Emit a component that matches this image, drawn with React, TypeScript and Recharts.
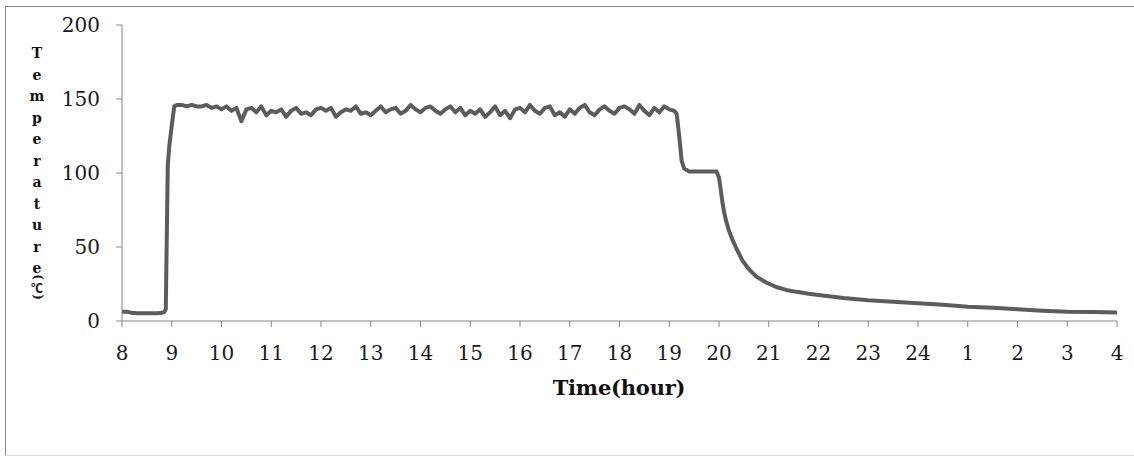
import React from "react";
import { LineChart, Line, XAxis, YAxis, Label } from "recharts";

// Time in hours (values above 24 are the next morning: 25 = 1h, 28 = 4h)
const startTimes = [8.0, 8.1, 8.2, 8.3, 8.5, 8.7, 8.8, 8.85, 8.88, 8.92, 8.95, 9.0, 9.05];
const startTemps = [6.3, 6.3, 5.5, 5.2, 5.2, 5.3, 5.5, 6.0, 8.0, 105, 118, 132, 145];

const plateauTimes = [
  9.1, 9.2, 9.3, 9.4, 9.5, 9.6, 9.7, 9.8, 9.9, 10.0,
  10.1, 10.2, 10.3, 10.4, 10.5, 10.6, 10.7, 10.8, 10.9, 11.0,
  11.1, 11.2, 11.3, 11.4, 11.5, 11.6, 11.7, 11.8, 11.9, 12.0,
  12.1, 12.2, 12.3, 12.4, 12.5, 12.6, 12.7, 12.8, 12.9, 13.0,
  13.1, 13.2, 13.3, 13.4, 13.5, 13.6, 13.7, 13.8, 13.9, 14.0,
  14.1, 14.2, 14.3, 14.4, 14.5, 14.6, 14.7, 14.8, 14.9, 15.0,
  15.1, 15.2, 15.3, 15.4, 15.5, 15.6, 15.7, 15.8, 15.9, 16.0,
  16.1, 16.2, 16.3, 16.4, 16.5, 16.6, 16.7, 16.8, 16.9, 17.0,
  17.1, 17.2, 17.3, 17.4, 17.5, 17.6, 17.7, 17.8, 17.9, 18.0,
  18.1, 18.2, 18.3, 18.4, 18.5, 18.6, 18.7, 18.8, 18.9, 19.0,
  19.1,
];
const plateauTemps = [
  146, 146, 145, 146, 145, 145, 146, 144, 145, 143,
  145, 142, 144, 135, 143, 144, 141, 145, 139, 142,
  141, 143, 138, 142, 144, 140, 141, 139, 143, 144,
  142, 144, 138, 141, 143, 142, 145, 140, 141, 139,
  142, 145, 141, 143, 144, 140, 142, 146, 143, 141,
  144, 145, 142, 140, 143, 145, 141, 144, 139, 142,
  140, 143, 138, 141, 145, 139, 142, 137, 143, 144,
  141, 146, 142, 140, 144, 145, 139, 141, 138, 143,
  140, 144, 146, 141, 139, 143, 145, 142, 140, 144,
  145, 143, 140, 146, 142, 139, 144, 141, 145, 143,
  142,
];

const coolTimes = [
  19.15, 19.2, 19.25, 19.3, 19.4, 19.95, 20.0, 20.03, 20.07, 20.1, 20.14, 20.2, 20.27,
  20.35, 20.47, 20.6, 20.75, 20.95, 21.15, 21.35, 21.56, 21.8, 22.0, 22.5, 23.0, 23.5,
  24.0, 24.5, 25.0, 25.5, 26.0, 26.5, 27.0, 27.5, 28.0,
];
const coolTemps = [
  140, 125, 108, 103, 101, 101, 97, 90, 80, 74, 68, 61, 55,
  49, 41, 35, 30, 26, 23, 21, 19.7, 18.4, 17.5, 15.5, 14, 13,
  12, 11, 9.7, 9, 8, 7, 6.3, 6, 5.8,
];

const xTicks = [8, 9, 10, 11, 12, 13, 14, 15, 16, 17, 18, 19, 20, 21, 22, 23, 24, 25, 26, 27, 28];
const yTicks = [0, 50, 100, 150, 200];
const yLabelLetters = ["T", "e", "m", "p", "e", "r", "a", "t", "u", "r", "e"];

const allTimes = [...startTimes, ...plateauTimes, ...coolTimes];
const allTemps = [...startTemps, ...plateauTemps, ...coolTemps];
const data = allTimes.map((t, i) => ({ t, temp: allTemps[i] }));

const FONT = "'DejaVu Serif', 'Liberation Serif', serif";
const AXIS = "#868686";

const YLabel = () => (
  <g fontFamily={FONT} fontWeight="bold" fontSize={14} fill="#111" textAnchor="middle">
    {yLabelLetters.map((ch, i) => (
      <text key={i} x={37} y={58 + i * 21.5}>
        {ch}
      </text>
    ))}
    <text x={37} y={280} transform="rotate(90 37 277)" fontSize={12}>(</text>
    <text x={37} y={293} fontSize={12} fontWeight="bold" fontFamily="'Noto Sans CJK JP', sans-serif">℃</text>
    <text x={37} y={300} transform="rotate(90 37 297)" fontSize={12}>)</text>
  </g>
);

const XLabel = () => (
  <text
    x={619}
    y={395}
    textAnchor="middle"
    fontFamily={FONT}
    fontWeight="bold"
    fontSize={21}
    letterSpacing={-0.2}
    fill="#111"
  >
    Time(hour)
  </text>
);

export default function App() {
  return (
    <div style={{ position: "absolute", left: 0, top: 0, width: 1134, height: 457, overflow: "hidden", background: "#fff" }}>
      <div
        style={{
          position: "absolute",
          left: 5,
          top: 6,
          width: 1140,
          height: 448,
          borderTop: "1px solid #8a8a8a",
          borderLeft: "1px solid #8a8a8a",
          borderBottom: "1px solid #dddddd",
        }}
      />
      <div style={{ position: "absolute", left: 0, top: 0 }}>
        <LineChart width={1134} height={457} data={data} margin={{ top: 25, right: 17, bottom: 106, left: 62 }}>
          <XAxis
            dataKey="t"
            type="number"
            domain={[8, 28]}
            ticks={xTicks}
            interval={0}
            tickFormatter={(v: number) => String(v > 24 ? v - 24 : v)}
            stroke={AXIS}
            tickSize={6}
            tickMargin={19}
            height={30}
            tick={{ fontFamily: FONT, fontSize: 20, fill: "#1a1a1a" }}
            tickLine={{ stroke: AXIS }}
          >
            <Label content={<XLabel />} />
          </XAxis>
          <YAxis
            type="number"
            domain={[0, 200]}
            ticks={yTicks}
            interval={0}
            stroke={AXIS}
            tickSize={6}
            tickMargin={16}
            width={60}
            tick={{ fontFamily: FONT, fontSize: 20, fill: "#1a1a1a" }}
            tickLine={{ stroke: AXIS }}
          >
            <Label content={<YLabel />} />
          </YAxis>
          <Line
            type="linear"
            dataKey="temp"
            stroke="#5c5c5c"
            strokeWidth={4}
            dot={false}
            isAnimationActive={false}
            strokeLinejoin="round"
          />
        </LineChart>
      </div>
    </div>
  );
}
